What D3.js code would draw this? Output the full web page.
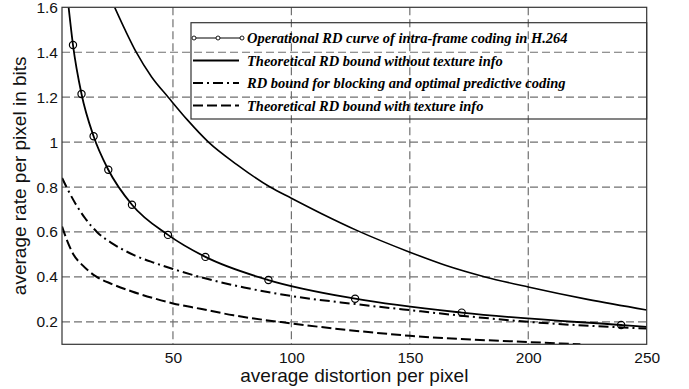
<!DOCTYPE html>
<html>
<head>
<meta charset="utf-8">
<script src="https://cdn.jsdelivr.net/npm/d3@7"></script>
<style>
  html, body { margin: 0; padding: 0; background: #fff; }
  svg { display: block; }
</style>
</head>
<body>
<svg id="chart" width="689" height="389"></svg>
<script>
// Operational RD curve of intra-frame H.264 coding (line points; marked = circle drawn)
const opDistortion = [5.95, 7.8, 11.4, 16.5, 22.7, 32.7, 47.9, 63.7, 90.3, 126.9, 171.9, 239.2, 250];
const opRate       = [1.6, 1.432, 1.214, 1.026, 0.877, 0.721, 0.587, 0.489, 0.386, 0.303, 0.241, 0.186, 0.178];
const opMarked     = [false, true, true, true, true, true, true, true, true, true, true, true, false];

// Theoretical RD bound without texture info
const noTexDistortion = [25.4, 30, 34.5, 41, 48, 56, 65, 77, 91, 100, 113, 127.6, 150, 165, 181.8, 200, 225, 250];
const noTexRate       = [1.6, 1.495, 1.4, 1.29, 1.2, 1.1, 1.0, 0.9, 0.8, 0.75, 0.68, 0.607, 0.51, 0.452, 0.4, 0.355, 0.3, 0.253];

// RD bound for blocking and optimal predictive coding
const blockDistortion = [3.2, 5.3, 8.8, 13, 17.9, 25, 34, 42, 50, 62, 80, 100, 127, 150, 175, 200, 250];
const blockRate       = [0.84, 0.795, 0.727, 0.66, 0.6, 0.545, 0.495, 0.463, 0.435, 0.398, 0.353, 0.315, 0.279, 0.252, 0.224, 0.2, 0.17];

// Theoretical RD bound with texture info
const texDistortion = [3.2, 5, 8, 12, 17.5, 24.3, 32.7, 42.5, 50, 61.6, 75.6, 100, 150, 200, 222];
const texRate       = [0.624, 0.57, 0.5, 0.45, 0.402, 0.368, 0.335, 0.303, 0.282, 0.258, 0.229, 0.193, 0.138, 0.11, 0.1];

const xTicks = [50, 100, 150, 200, 250];
const yTicks = [0.2, 0.4, 0.6, 0.8, 1, 1.2, 1.4, 1.6];
const xLabel = "average distortion per pixel";
const yLabel = "average rate per pixel in bits";
const legendLabels = [
  "Operational RD curve of intra-frame coding in H.264",
  "Theoretical RD bound without texture info",
  "RD bound for blocking and optimal predictive coding",
  "Theoretical RD bound with texture info"
];

const svg = d3.select("#chart");
const L = 62, R = 646.7, T = 7.3, B = 344.3;

const x = d3.scaleLinear().domain([3.16, 250]).range([L, R]);
const y = d3.scaleLinear().domain([0.1, 1.6]).range([B, T]);

const gridColor = "#707070";
const sans = "'Liberation Sans', Arial, Helvetica, sans-serif";
const serif = "'Liberation Serif', 'Times New Roman', serif";

// grid
const grid = svg.append("g");
grid.selectAll("line.gx").data(xTicks.filter(d => d < 250)).join("line")
  .attr("x1", d => x(d)).attr("x2", d => x(d)).attr("y1", T).attr("y2", B)
  .attr("stroke", gridColor).attr("stroke-width", 1.2).attr("stroke-dasharray", "8,4");
grid.selectAll("line.gy").data(yTicks.filter(d => d < 1.6)).join("line")
  .attr("x1", L).attr("x2", R).attr("y1", d => y(d)).attr("y2", d => y(d))
  .attr("stroke", gridColor).attr("stroke-width", 1.2).attr("stroke-dasharray", "8,4");

// axes (tick labels only, frame drawn separately)
const xAxis = svg.append("g").attr("transform", `translate(0,${B})`)
  .call(d3.axisBottom(x).tickValues(xTicks).tickSize(0).tickPadding(8).tickFormat(d3.format("d")));
xAxis.select(".domain").remove();
xAxis.selectAll("text").attr("font-family", sans).attr("font-size", 15.5).attr("fill", "#111");

const yAxis = svg.append("g").attr("transform", `translate(${L},0)`)
  .call(d3.axisLeft(y).tickValues(yTicks).tickSize(0).tickPadding(4).tickFormat(d => d3.format("")(d)));
yAxis.select(".domain").remove();
yAxis.selectAll("text").attr("font-family", sans).attr("font-size", 15.5).attr("fill", "#111");

// clip region for curves
svg.append("clipPath").attr("id", "plotClip")
  .append("rect").attr("x", L).attr("y", T).attr("width", R - L).attr("height", B - T);
const plot = svg.append("g").attr("clip-path", "url(#plotClip)");

const line = d3.line().x(d => x(d[0])).y(d => y(d[1])).curve(d3.curveMonotoneX);
const zip = (a, b) => a.map((v, i) => [v, b[i]]);

plot.append("path").datum(zip(texDistortion, texRate)).attr("d", line)
  .attr("fill", "none").attr("stroke", "#000").attr("stroke-width", 2).attr("stroke-dasharray", "10,4");
plot.append("path").datum(zip(blockDistortion, blockRate)).attr("d", line)
  .attr("fill", "none").attr("stroke", "#000").attr("stroke-width", 2).attr("stroke-dasharray", "10,4,2,4");
plot.append("path").datum(zip(noTexDistortion, noTexRate)).attr("d", line)
  .attr("fill", "none").attr("stroke", "#000").attr("stroke-width", 1.6);
const opPts = zip(opDistortion, opRate);
plot.append("path").datum(opPts).attr("d", line)
  .attr("fill", "none").attr("stroke", "#000").attr("stroke-width", 1.8);
plot.selectAll("circle.op").data(opPts.filter((d, i) => opMarked[i])).join("circle")
  .attr("cx", d => x(d[0])).attr("cy", d => y(d[1])).attr("r", 3.6)
  .attr("fill", "none").attr("stroke", "#000").attr("stroke-width", 1.2);

// frame
svg.append("rect").attr("x", L).attr("y", T).attr("width", R - L).attr("height", B - T)
  .attr("fill", "none").attr("stroke", "#333").attr("stroke-width", 1.2);

// axis titles
svg.append("text").attr("x", (L + R) / 2).attr("y", 382).attr("text-anchor", "middle")
  .attr("font-family", sans).attr("font-size", 19).attr("fill", "#111").text(xLabel);
svg.append("text").attr("transform", `translate(26,${(T + B) / 2}) rotate(-90)`).attr("text-anchor", "middle")
  .attr("font-family", sans).attr("font-size", 19).attr("fill", "#111").text(yLabel);

// legend
const lg = svg.append("g");
lg.append("rect").attr("x", 191).attr("y", 22.7).attr("width", R - 191).attr("height", 119 - 22.7)
  .attr("fill", "none").attr("stroke", "#333").attr("stroke-width", 1.2);
const rowY = [38, 60.5, 83, 105.5];
const dashes = [null, null, "10,4,2,4", "10,4"];
legendLabels.forEach((lab, i) => {
  const x2 = i === 0 ? 243 : 239;
  lg.append("line").attr("x1", 193).attr("x2", x2).attr("y1", rowY[i]).attr("y2", rowY[i])
    .attr("stroke", "#000").attr("stroke-width", i === 0 ? 1 : 1.8)
    .attr("stroke-dasharray", dashes[i]);
  lg.append("text").attr("x", 247).attr("y", rowY[i] + 5)
    .attr("font-family", serif).attr("font-size", 14.5).attr("font-weight", "bold").attr("font-style", "italic")
    .attr("fill", "#000").text(lab);
});
lg.selectAll("circle.lm").data([194, 218, 242]).join("circle")
  .attr("cx", d => d).attr("cy", rowY[0]).attr("r", 2)
  .attr("fill", "#fff").attr("stroke", "#000").attr("stroke-width", 0.9);
</script>
</body>
</html>
